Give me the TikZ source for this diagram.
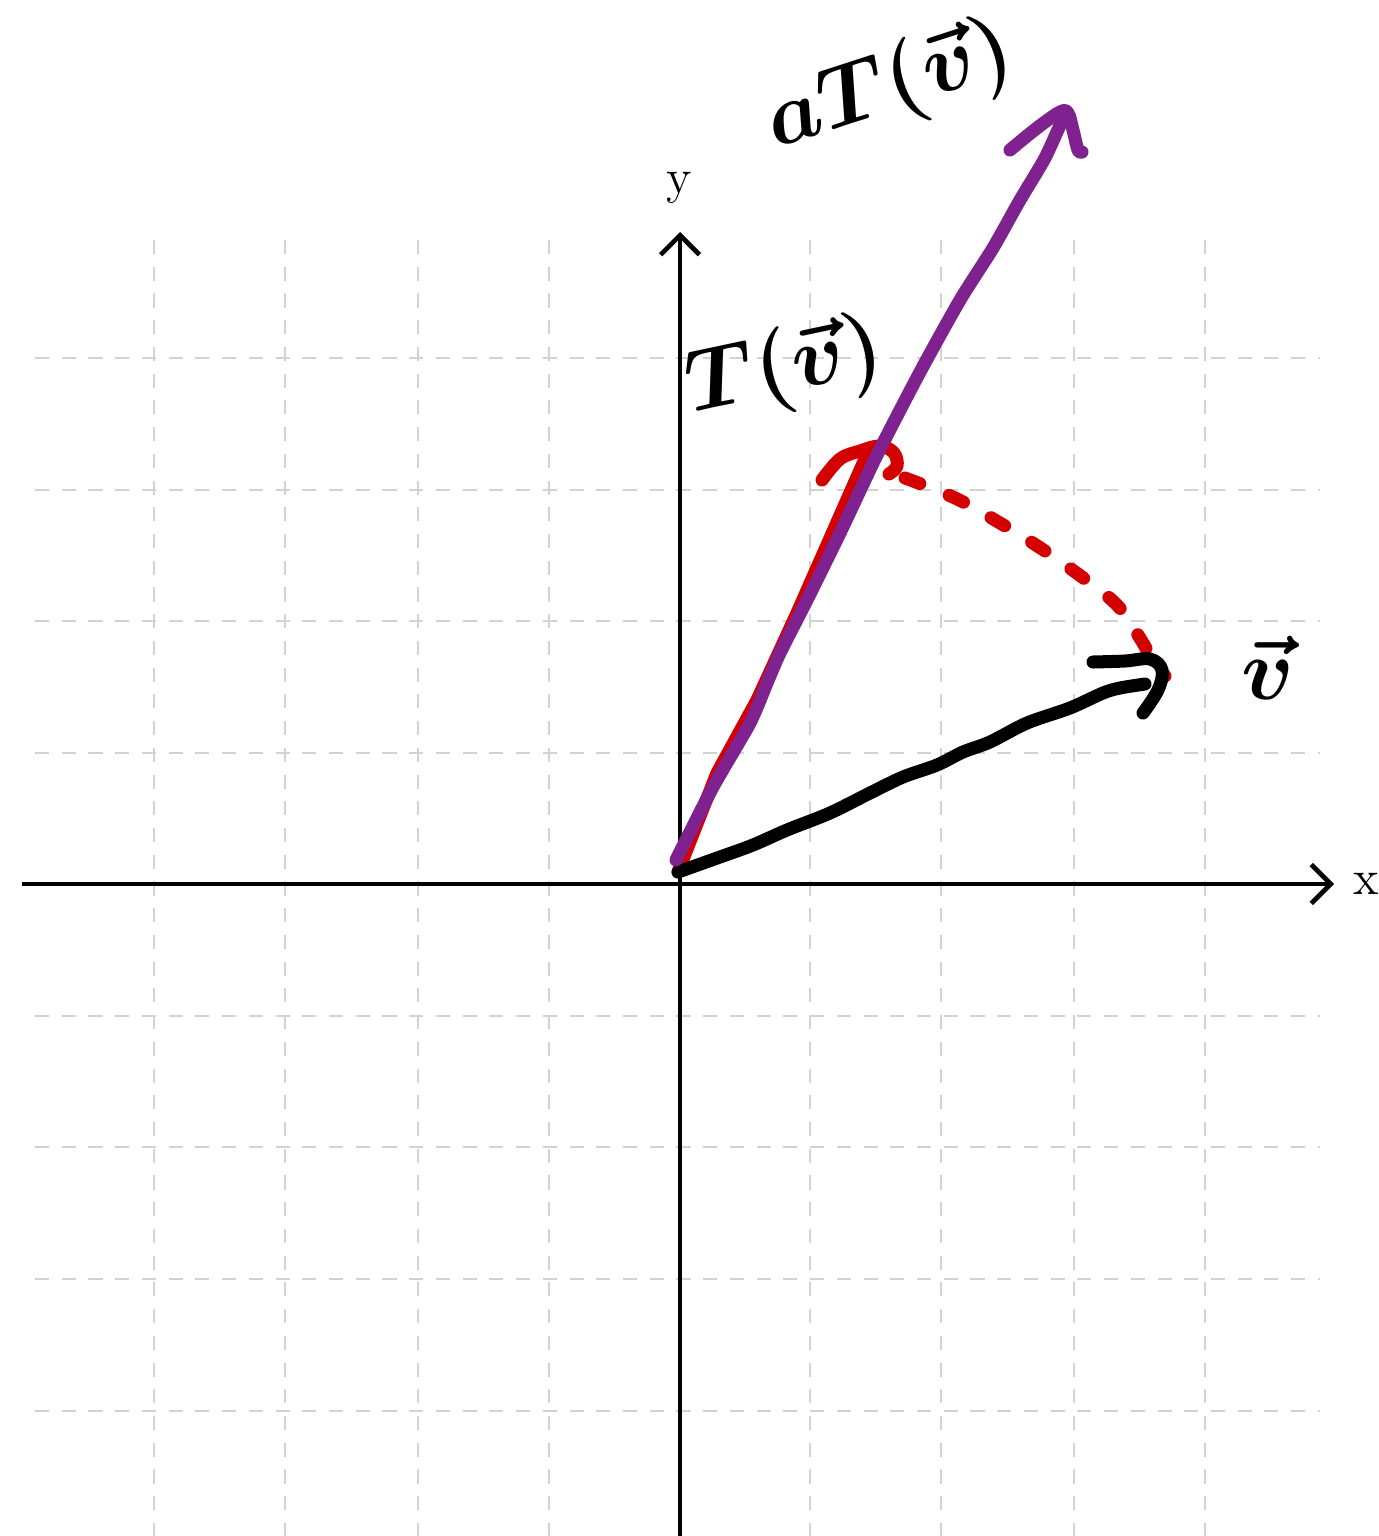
\documentclass[tikz,border=0pt]{standalone}
\usepackage{amsmath}
\usetikzlibrary{arrows.meta}
\definecolor{gridgray}{RGB}{210,210,210}
\definecolor{penpurple}{RGB}{127,34,144}
\definecolor{penred}{RGB}{212,0,0}
\tikzset{
  gridline/.style={draw=gridgray, line width=0.7pt, dash pattern=on 4pt off 3.6pt},
  axis/.style={draw=black, line width=1.35pt, -{Straight Barb[length=5.5pt,width=11pt,line width=1.35pt]}},
  pen/.style={line width=3.7pt, line cap=round, line join=round},
  lbl/.style={inner sep=0pt, font=\fontsize{36}{40}\selectfont\boldmath},
  axlbl/.style={inner sep=0pt, font=\fontsize{14}{16}\selectfont}
}
\begin{document}
\begin{tikzpicture}[x=0.01cm, y=-0.01cm]
\useasboundingbox (0,0) rectangle (1379,1536);
% grid
\foreach \gx in {154,285,418,549,810,941,1074,1205}
  \draw[gridline] (\gx,240) -- (\gx,1536);
\foreach \gy in {358,490,621,753,1016,1147,1279,1411}
  \draw[gridline] (35,\gy) -- (1320,\gy);
% axes
\coordinate (xs) at (22,884);
\coordinate (xe) at (1334,884);
\coordinate (ys) at (680,1536);
\coordinate (ye) at (680,232);
\draw[axis] (xs) -- (xe);
\draw[axis] (ys) -- (ye);
\node[axlbl] (xl) at (1366,884) {x};
\node[axlbl] (yl) at (679,188) {y};
% key points
\coordinate (O) at (678,872);
\coordinate (Vtip) at (1145,684);
\coordinate (Ttip) at (868,452);
\coordinate (Atip) at (1064,116);
% red T(v)
\draw[pen, penred] (O) -- (717,773) -- (757,700) -- (797,613) -- (Ttip);
\draw[pen, penred] plot[smooth, tension=0.6] coordinates {(822,480) (840,459) (860,451) (880,446) (894,453) (897,466) (889,474)};
% dashed arc
\draw[pen, penred, dash pattern=on 4.5pt off 9pt] plot[smooth, tension=0.6] coordinates {(905,478) (955,498) (1000,523) (1042,549) (1082,577) (1117,605) (1138,635) (1153,660) (1165,676)};
% black v
\draw[pen, black] plot[smooth, tension=0.5] coordinates {(O) (720,857) (753,845) (787,830) (830,813) (870,793) (903,777) (937,765) (963,752) (990,742) (1027,723) (1070,708) (1103,693) (1120,688) (Vtip)};
\draw[pen, black] plot[smooth, tension=0.6] coordinates {(1093,662) (1125,661) (1150,659) (1162,670) (1158,690) (1143,713)};
% purple aT(v)
\draw[pen, penpurple] plot[smooth, tension=0.4] coordinates {(676,860) (713,787) (750,723) (767,683) (780,653) (807,600) (840,533) (877,455) (920,372) (960,300) (993,248) (1020,200) (1045,158) (Atip)};
\draw[pen, penpurple] plot[smooth, tension=0.6] coordinates {(1010,150) (1037,128) (1060,112) (1068,113) (1073,130) (1078,150) (1082,152)};
% labels
\node[lbl, rotate=18] (laT) at (890,88) {$aT(\vec{v})$};
\node[lbl, rotate=12] (lT) at (785,370) {$T(\vec{v})$};
\node[lbl, font=\fontsize{44}{48}\selectfont\boldmath] (lv) at (1268,668) {$\vec{v}$};
\end{tikzpicture}
\end{document}
